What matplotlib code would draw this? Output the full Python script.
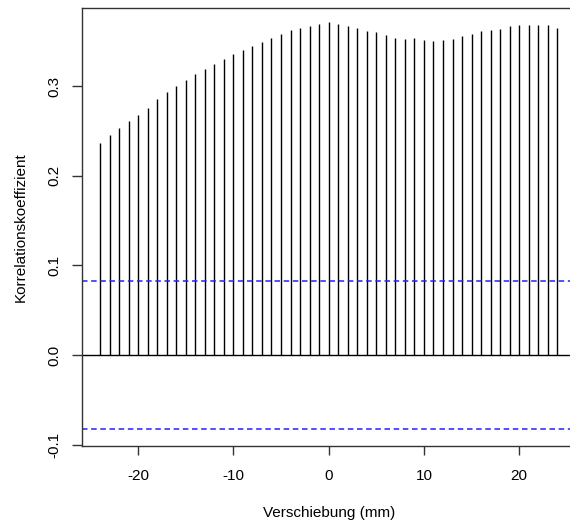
import numpy as np
import matplotlib
matplotlib.use("Agg")
import matplotlib.pyplot as plt

plt.rcParams['font.family'] = ['Liberation Sans', 'DejaVu Sans']

# lag in mm and cross-correlation values
lags = np.arange(-24, 25)
ccf = [0.237, 0.245, 0.253, 0.261, 0.268, 0.276, 0.285, 0.293, 0.300, 0.307,
       0.313, 0.319, 0.324, 0.330, 0.336, 0.340, 0.345, 0.349, 0.354, 0.358,
       0.362, 0.365, 0.367, 0.369, 0.371,
       0.369, 0.367, 0.365, 0.361, 0.360, 0.357, 0.354, 0.352, 0.353, 0.351,
       0.350, 0.351, 0.352, 0.356, 0.358, 0.361, 0.362, 0.364, 0.367, 0.368,
       0.368, 0.368, 0.368, 0.365]
conf = 0.083

xticks = [-20, -10, 0, 10, 20]
yticks = [-0.1, 0.0, 0.1, 0.2, 0.3]

fig = plt.figure(figsize=(5.7, 5.25), dpi=100)
# right edge of the box lies just outside the picture, as in the original
ax = fig.add_axes([81.7 / 570, 1 - 446 / 525, (575.6 - 81.7) / 570, (446 - 8) / 525])

ax.vlines(lags, 0, ccf, color='black', lw=1.0)
ax.axhline(0, color='black', lw=1.0)
ax.axhline(conf, color='#2020ff', lw=1.1, dashes=(3.6, 2.4))
ax.axhline(-conf, color='#2020ff', lw=1.1, dashes=(3.6, 2.4))

ax.set_xlim(-25.92, 25.92)
ax.set_ylim(-0.1014, 0.387)
ax.set_xticks(xticks)
ax.set_xticklabels([str(t) for t in xticks])
ax.set_yticks(yticks)
ax.set_yticklabels(['%.1f' % t for t in yticks], rotation=90, va='center')

for s in ax.spines.values():
    s.set_color('#333333')
    s.set_linewidth(1.0)

ax.tick_params(axis='x', length=6.7, width=1.0, color='#333333', pad=9.5, labelsize=11)
ax.tick_params(axis='y', length=7.2, width=1.0, color='#333333', pad=7.5, labelsize=11)

ax.set_xlabel('Verschiebung (mm)', fontsize=11, labelpad=17)
ax.set_ylabel('Korrelationskoeffizient', fontsize=11, labelpad=14)

fig.savefig('out.png', dpi=100)
